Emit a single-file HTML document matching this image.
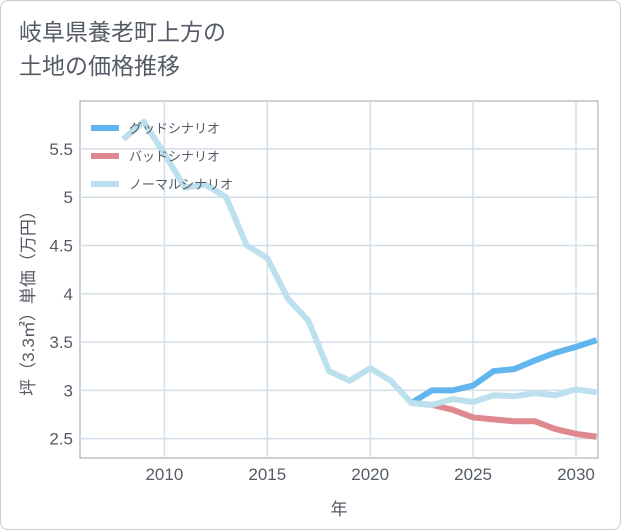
<!DOCTYPE html>
<html><head><meta charset="utf-8"><style>
body{margin:0;background:#fff;}
#wrap{position:relative;width:619px;height:528px;border:1px solid #ccc;border-radius:8px;background:#fff;font-family:"Liberation Sans","Noto Sans CJK JP",sans-serif;overflow:hidden}
h1{position:absolute;left:18px;top:14px;margin:0;font-weight:normal;font-size:23px;line-height:34px;color:#555b66}
svg{position:absolute;left:0;top:0}
text{font-family:"Liberation Sans","Noto Sans CJK JP",sans-serif}
</style></head><body>
<div id="wrap">
<h1>岐阜県養老町上方の<br>土地の価格推移</h1>
<svg id="chart" width="621" height="530"></svg>
</div>
<script>
const years=[2008,2009,2010,2011,2012,2013,2014,2015,2016,2017,2018,2019,2020,2021,2022,2023,2024,2025,2026,2027,2028,2029,2030,2031];
const normalVals=[5.6,5.78,5.45,5.1,5.13,5.0,4.5,4.37,3.95,3.72,3.2,3.1,3.23,3.1,2.87,2.85,2.91,2.88,2.95,2.94,2.97,2.95,3.01,2.98];
const futureYears=[2022,2023,2024,2025,2026,2027,2028,2029,2030,2031];
const goodVals=[2.87,3.0,3.0,3.05,3.2,3.22,3.31,3.39,3.45,3.52];
const badVals=[2.87,2.85,2.8,2.72,2.7,2.68,2.68,2.6,2.55,2.52];
const xTicks=[2010,2015,2020,2025,2030];
const yTicks=[2.5,3,3.5,4,4.5,5,5.5];
const L=79,R=597,T=100,B=457,X0=2005.9,X1=2031.07,Y0=2.3,Y1=5.996;
const xs=v=>L+(v-X0)/(X1-X0)*(R-L);
const ys=v=>B-(v-Y0)/(Y1-Y0)*(B-T);
const svg=document.getElementById('chart');
const NS='http://www.w3.org/2000/svg';
function mk(tag,attrs){const e=document.createElementNS(NS,tag);for(const k in attrs)e.setAttribute(k,attrs[k]);svg.appendChild(e);return e;}
let e=mk('rect',{x:L,y:T,width:R-L,height:B-T,fill:'none',stroke:'#9aa3ad','stroke-width':1});


yTicks.forEach(v=>{
 let g=mk('line',{x1:L,x2:R,y1:ys(v),y2:ys(v),stroke:'#d3dde6','stroke-width':1.5});
 
 
 let t=mk('text',{x:72,y:ys(v)+6,'text-anchor':'end','font-size':17,fill:'#555b66'});t.textContent=v;
 
 
});
xTicks.forEach(v=>{
 let g=mk('line',{x1:xs(v),x2:xs(v),y1:T,y2:B,stroke:'#cfe0ea','stroke-width':1.5});
 
 
 let t=mk('text',{x:xs(v),y:479,'text-anchor':'middle','font-size':17,fill:'#555b66'});t.textContent=v;
 
 
});
function line(xv,yv,color,name){
 let p=mk('polyline',{points:xv.map((x,i)=>xs(x)+','+ys(yv[i])).join(' '),fill:'none',stroke:color,'stroke-width':6,'stroke-linejoin':'round'});
 
 
}
line(futureYears,badVals,'#e0888f','bad-scenario-line');
line(futureYears,goodVals,'#62b6f0','good-scenario-line');
line(years,normalVals,'#bde0ee','normal-scenario-line');
const legend=[['グッドシナリオ','#62b6f0'],['バッドシナリオ','#e0888f'],['ノーマルシナリオ','#bde0ee']];
legend.forEach((l,i)=>{
 const y=127+i*28;
 let s=mk('line',{x1:90,x2:118,y1:y,y2:y,stroke:l[1],'stroke-width':6});
 
 
 let t=mk('text',{x:128,y:y+5,'font-size':13,fill:'#555b66'});t.textContent=l[0];
 
 
});
let xt=mk('text',{x:(L+R)/2,y:514,'text-anchor':'middle','font-size':17,fill:'#555b66'});xt.textContent='年';


let yt=mk('text',{x:0,y:0,'text-anchor':'middle','font-size':17,fill:'#555b66',transform:'translate(33,298) rotate(-90)'});yt.textContent='坪（3.3㎡）単価（万円）';


</script>
</body></html>
